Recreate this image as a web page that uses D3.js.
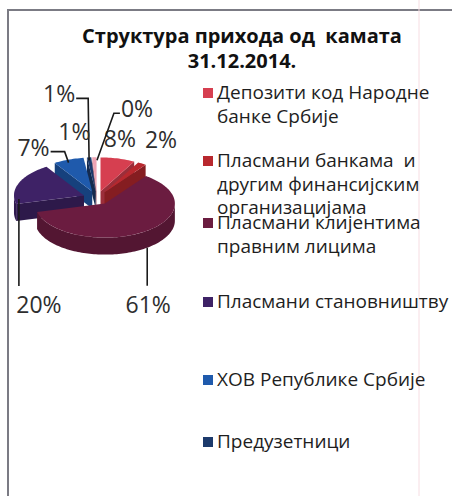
<!DOCTYPE html>
<html>
<head>
<meta charset="utf-8">
<script src="https://cdn.jsdelivr.net/npm/d3@7"></script>
<style>
  body { margin: 0; background: #fff; }
  text { font-family: "Open Sans", sans-serif; }
</style>
</head>
<body>
<div id="chart"></div>
<script>
// data
const categories = [
  "Депозити код Народне банке Србије",
  "Пласмани банкама  и другим финансијским организацијама",
  "Пласмани клијентима правним лицима",
  "Пласмани становништву",
  "ХОВ Републике Србије",
  "Предузетници",
  "Остало 1",
  "Остало 2",
];
const shares = [8, 2, 61, 20, 7, 1, 1, 0];
const percentLabels = ["8%", "2%", "61%", "20%", "7%", "1%", "1%", "0%"];
const legendLines = [
  ["Депозити код Народне", "банке Србије"],
  ["Пласмани банкама  и", "другим финансијским", "организацијама"],
  ["Пласмани клијентима", "правним лицима"],
  ["Пласмани становништву"],
  ["ХОВ Републике Србије"],
  ["Предузетници"],
];
const colors = ["#d63f50", "#b8282e", "#6b1c40", "#3e2266", "#1f5aac", "#1c3a6c", "#eea3b3", "#9a9a9a"];

// layout
const width = 452, height = 496;
const pieBox = { cx: 97, cy: 198, rx: 70, ry: 34, depth: 17, explode: 14 };
const tilt = pieBox.ry / pieBox.rx;

// label placement relative to each slice anchor (manually dragged in the original)
const labelLayout = [
  { dx: 2, dy: -11, leader: null },
  { dx: 19, dy: -16, leader: null },
  { dx: 4, dy: 64, leader: "below", lx: 3 },
  { dx: 20, dy: 113, leader: "below", lx: 0 },
  { dx: -35, dy: -4, leader: "side", h: 14 },
  { dx: -30, dy: -55, leader: "side", h: 12 },
  { dx: -20, dy: -17, leader: null },
  { dx: 40, dy: -40, leader: "side", h: 6 },
];
const legendBaselines = [99, 167, 229, 308, 386, 448];
const legendLineStep = 23.5;

const svg = d3
  .select("#chart")
  .append("svg")
  .attr("width", width)
  .attr("height", height)
  .attr("viewBox", "0 0 " + width + " " + height);

svg.append("rect").attr("width", width).attr("height", height).attr("fill", "#fff");

// frame (runs off the right and bottom edge)
svg
  .append("path")
  .attr("d", "M8," + (height + 5) + "V10H" + (width + 5))
  .attr("fill", "none")
  .attr("stroke", "#7b7b84")
  .attr("stroke-width", 2);
svg
  .append("line")
  .attr("x1", 419).attr("x2", 419)
  .attr("y1", 0).attr("y2", height)
  .attr("stroke", "#f6dde2")
  .attr("stroke-width", 1);

// title
svg
  .append("text")
  .attr("x", 242)
  .attr("text-anchor", "middle")
  .attr("font-weight", "bold")
  .attr("font-size", 20)
  .attr("fill", "#111")
  .selectAll("tspan")
  .data(["Структура прихода од  камата", "31.12.2014."])
  .join("tspan")
  .attr("x", 242)
  .attr("y", (d, i) => 43 + i * 25)
  .style("white-space", "pre")
  .text((d) => d);

// pie geometry
const arcs = d3.pie().sort(null).value((d) => d)(shares);

function point(a, ox, oy, z) {
  return [
    pieBox.cx + ox + pieBox.rx * Math.sin(a),
    pieBox.cy + oy - pieBox.ry * Math.cos(a) + z,
  ];
}

function rim(a0, a1, ox, oy, z) {
  const n = Math.max(2, Math.ceil(Math.abs(a1 - a0) / 0.03));
  return d3.range(n + 1).map((k) => point(a0 + ((a1 - a0) * k) / n, ox, oy, z));
}

const line = d3.line().curve(d3.curveLinear);

arcs.forEach((d) => {
  d.mid = (d.startAngle + d.endAngle) / 2;
  d.ox = pieBox.explode * Math.sin(d.mid);
  d.oy = -pieBox.explode * Math.cos(d.mid) * tilt;
});

// back slices first
const drawOrder = [...arcs].sort(
  (a, b) => a.oy - pieBox.ry * Math.cos(a.mid) * 0.5 - (b.oy - pieBox.ry * Math.cos(b.mid) * 0.5)
);

const pieG = svg.append("g").attr("id", "pie");

drawOrder.forEach((d) => {
  if (d.value === 0) return;
  const c = colors[d.index];
  const g = pieG.append("g");
  const centerTop = [pieBox.cx + d.ox, pieBox.cy + d.oy];
  const centerBot = [centerTop[0], centerTop[1] + pieBox.depth];

  // radial walls facing the viewer
  const walls = [];
  if (Math.sin(d.startAngle) < 0) walls.push(d.startAngle);
  if (Math.sin(d.endAngle) > 0) walls.push(d.endAngle);
  walls.forEach((a) => {
    g.append("path")
      .attr("d", line([centerTop, point(a, d.ox, d.oy, 0), point(a, d.ox, d.oy, pieBox.depth), centerBot]) + "Z")
      .attr("fill", d3.color(c).darker(0.9));
  });

  // front part of the outer wall
  const a0 = Math.max(d.startAngle, Math.PI / 2);
  const a1 = Math.min(d.endAngle, (3 * Math.PI) / 2);
  if (a1 > a0) {
    const top = rim(a0, a1, d.ox, d.oy, 0);
    const bot = rim(a1, a0, d.ox, d.oy, pieBox.depth);
    g.append("path")
      .attr("d", line(top.concat(bot)) + "Z")
      .attr("fill", d3.color(c).darker(0.7));
  }

  // top face
  g.append("path")
    .attr("d", line([centerTop].concat(rim(d.startAngle, d.endAngle, d.ox, d.oy, 0))) + "Z")
    .attr("fill", c);
});

// data labels with leader lines
const labelG = svg.append("g").attr("id", "labels");
arcs.forEach((d, i) => {
  const lay = labelLayout[i];
  const z = lay.leader === "below" ? pieBox.depth : 0;
  const anchor = point(d.mid, d.ox, d.oy, z);
  const tx = anchor[0] + lay.dx;
  const ty = anchor[1] + lay.dy;
  const t = labelG
    .append("text")
    .attr("x", tx)
    .attr("y", ty)
    .attr("text-anchor", "middle")
    .attr("font-size", 23)
    .attr("fill", "#2e2e2e")
    .text(percentLabels[i]);

  if (!lay.leader) return;
  const bb = t.node().getBBox();
  let pts;
  if (lay.leader === "below") {
    const lx = anchor[0] + lay.lx;
    pts = [[lx, anchor[1] - 1], [lx, bb.y - 2]];
  } else {
    const ly = ty - 4;
    const right = anchor[0] > tx;
    const x0 = right ? bb.x + bb.width + 1 : bb.x - 1;
    const x1 = right ? x0 + lay.h : x0 - lay.h;
    pts = [[x0, ly], [x1, ly], [anchor[0], anchor[1] + 3]];
  }
  labelG
    .append("path")
    .attr("d", line(pts))
    .attr("fill", "none")
    .attr("stroke", "#1a1a1a")
    .attr("stroke-width", 1.6);
});

// legend (only the entries that fit are shown, as in the original)
const legend = svg
  .append("g")
  .attr("id", "legend")
  .selectAll("g")
  .data(legendLines)
  .join("g");

legend
  .append("rect")
  .attr("x", 203)
  .attr("y", (d, i) => legendBaselines[i] - 11)
  .attr("width", 10)
  .attr("height", 10)
  .attr("fill", (d, i) => colors[i]);

legend
  .append("text")
  .attr("font-size", 19)
  .attr("fill", "#1e1e1e")
  .style("white-space", "pre")
  .selectAll("tspan")
  .data((d, i) => d.map((s) => ({ s, i })))
  .join("tspan")
  .attr("x", 217)
  .attr("y", (d, k) => legendBaselines[d.i] + k * legendLineStep)
  .text((d) => d.s);
</script>
</body>
</html>
